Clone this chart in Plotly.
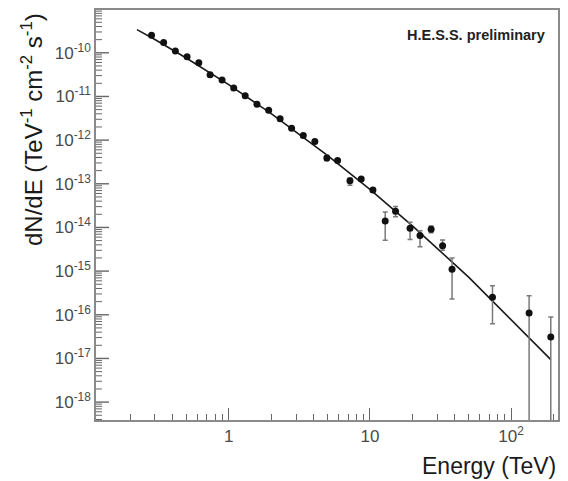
import math
import plotly.graph_objects as go

# Measured spectrum points (energy in TeV, flux in TeV^-1 cm^-2 s^-1)
energy = [0.284, 0.346, 0.419, 0.507, 0.614, 0.738, 0.897, 1.085, 1.308, 1.585,
          1.918, 2.312, 2.788, 3.373, 4.073, 4.952, 5.90, 7.22, 8.68, 10.5,
          12.83, 15.19, 19.24, 22.63, 27.13, 32.7, 38.16, 73.8, 134.1, 190.9]
flux = [2.53e-10, 1.72e-10, 1.10e-10, 8.1e-11, 5.92e-11, 3.15e-11, 2.39e-11, 1.57e-11, 1.04e-11, 6.64e-12,
        4.82e-12, 3.10e-12, 1.87e-12, 1.27e-12, 9.27e-13, 3.88e-13, 3.42e-13, 1.17e-13, 1.29e-13, 7.16e-14,
        1.41e-14, 2.34e-14, 9.64e-15, 6.57e-15, 9.10e-15, 3.83e-15, 1.11e-15, 2.51e-16, 1.10e-16, 3.08e-17]
flux_hi = [2.6e-10, 1.77e-10, 1.13e-10, 8.35e-11, 6.1e-11, 3.25e-11, 2.47e-11, 1.62e-11, 1.08e-11, 6.9e-12,
           5.0e-12, 3.22e-12, 1.95e-12, 1.33e-12, 9.8e-13, 4.49e-13, 3.70e-13, 1.36e-13, 1.38e-13, 7.9e-14,
           2.25e-14, 3.01e-14, 1.31e-14, 8.45e-15, 1.08e-14, 5.19e-15, 1.99e-15, 4.65e-16, 2.72e-16, 8.9e-17]
flux_lo = [2.46e-10, 1.67e-10, 1.07e-10, 7.85e-11, 5.75e-11, 3.05e-11, 2.31e-11, 1.52e-11, 1.0e-11, 6.4e-12,
           4.65e-12, 2.98e-12, 1.79e-12, 1.21e-12, 8.8e-13, 3.37e-13, 3.16e-13, 9.3e-14, 1.2e-13, 6.5e-14,
           5.1e-15, 1.75e-14, 5.33e-15, 3.63e-15, 7.6e-15, 3.02e-15, 2.31e-16, 6.22e-17, 0.0, 0.0]

# Fitted spectral model
fit_energy = [0.224, 0.3, 0.5, 1.0, 2.0, 5.0, 10.0, 20.0, 50.0, 100.0, 191.0]
fit_flux = [3.40e-10, 2.01e-10, 7.6e-11, 1.86e-11, 4.05e-12, 4.5e-13, 7.4e-14, 1.09e-14, 7.3e-16, 7.6e-17, 9.4e-18]

y_tick_vals = [1e-18, 1e-17, 1e-16, 1e-15, 1e-14, 1e-13, 1e-12, 1e-11, 1e-10]
y_tick_text = ["10<sup>-18</sup>", "10<sup>-17</sup>", "10<sup>-16</sup>", "10<sup>-15</sup>",
               "10<sup>-14</sup>", "10<sup>-13</sup>", "10<sup>-12</sup>", "10<sup>-11</sup>",
               "10<sup>-10</sup>"]
x_tick_vals = [1, 10, 100]
x_tick_text = ["1", "10", "10<sup>2</sup>"]

# axis ranges (log10 units) and plot geometry
X_RANGE = [-0.940, 2.332]
Y_RANGE = [-18.410, -9.020]
W, H = 568, 481
M_L, M_R, M_T, M_B = 96, 9, 8, 61
PLOT_W = W - M_L - M_R

# minor tick positions (2..9 in every decade)
x_minor = [m * 10.0 ** e for e in range(-1, 3) for m in range(2, 10)]
y_minor = [m * 10.0 ** e for e in range(-19, -9) for m in range(2, 10)]

FONT = "Liberation Sans, Arial, sans-serif"
frame_col = "#8a8a8a"
tick_col = "#666666"

err_plus = [h - f for h, f in zip(flux_hi, flux)]
err_minus = [f - l for f, l in zip(flux, flux_lo)]

fig = go.Figure()
fig.add_trace(go.Scatter(
    x=fit_energy, y=fit_flux, mode="lines",
    line=dict(color="#1a1a1a", width=1.6), hoverinfo="skip", showlegend=False))
fig.add_trace(go.Scatter(
    x=energy, y=flux, mode="markers",
    marker=dict(color="#111111", size=7),
    error_y=dict(type="data", symmetric=False, array=err_plus, arrayminus=err_minus,
                 color="#7a7a7a", thickness=1.5, width=2.5),
    showlegend=False))

fig.update_xaxes(
    type="log", range=X_RANGE,
    tickmode="array", tickvals=x_tick_vals, ticktext=x_tick_text,
    ticks="inside", ticklen=12, tickwidth=1.4, tickcolor=tick_col,
    minor=dict(ticks="inside", ticklen=6, tickwidth=1.2, tickcolor=tick_col,
               tickmode="array", tickvals=x_minor),
    showgrid=False, zeroline=False,
    showline=True, linecolor=frame_col, linewidth=1.5, mirror=True,
    tickfont=dict(family=FONT, size=17, color="#4a4a4a"),
)
fig.update_yaxes(
    type="log", range=Y_RANGE,
    tickmode="array", tickvals=y_tick_vals, ticktext=y_tick_text,
    ticks="", showgrid=False, zeroline=False,
    showline=True, linecolor=frame_col, linewidth=1.5, mirror=True,
    tickfont=dict(family=FONT, size=17, color="#4a4a4a"),
)


# inside ticks of the flux axis, positioned from the axis range
def y_frac(v):
    return (math.log10(v) - Y_RANGE[0]) / (Y_RANGE[1] - Y_RANGE[0])


for v in y_tick_vals:
    fig.add_shape(type="line", xref="paper", yref="paper",
                  x0=0, x1=13 / PLOT_W, y0=y_frac(v), y1=y_frac(v),
                  line=dict(color=tick_col, width=1.4))
for v in y_minor:
    f = y_frac(v)
    if 0 < f < 1:
        fig.add_shape(type="line", xref="paper", yref="paper",
                      x0=0, x1=6 / PLOT_W, y0=f, y1=f,
                      line=dict(color=tick_col, width=1.0))

fig.add_annotation(text="Energy (TeV)", xref="paper", yref="paper",
                   x=1.0, y=-0.112, xanchor="right", yanchor="middle",
                   showarrow=False, font=dict(family=FONT, size=23, color="#1a1a1a"))
fig.add_annotation(text="dN/dE (TeV<sup>-1</sup> cm<sup>-2</sup> s<sup>-1</sup>)",
                   xref="paper", yref="paper", x=-0.140, y=0.997,
                   xanchor="center", yanchor="top", textangle=-90,
                   showarrow=False, font=dict(family=FONT, size=24, color="#1a1a1a"))
fig.add_annotation(text="<b>H.E.S.S. preliminary</b>", xref="paper", yref="paper",
                   x=0.976, y=0.939, xanchor="right", yanchor="middle",
                   showarrow=False, font=dict(family=FONT, size=14.5, color="#222222"))

fig.update_layout(
    width=W, height=H,
    margin=dict(l=M_L, r=M_R, t=M_T, b=M_B),
    paper_bgcolor="white", plot_bgcolor="white",
    showlegend=False,
)

fig.write_html("out.html")
